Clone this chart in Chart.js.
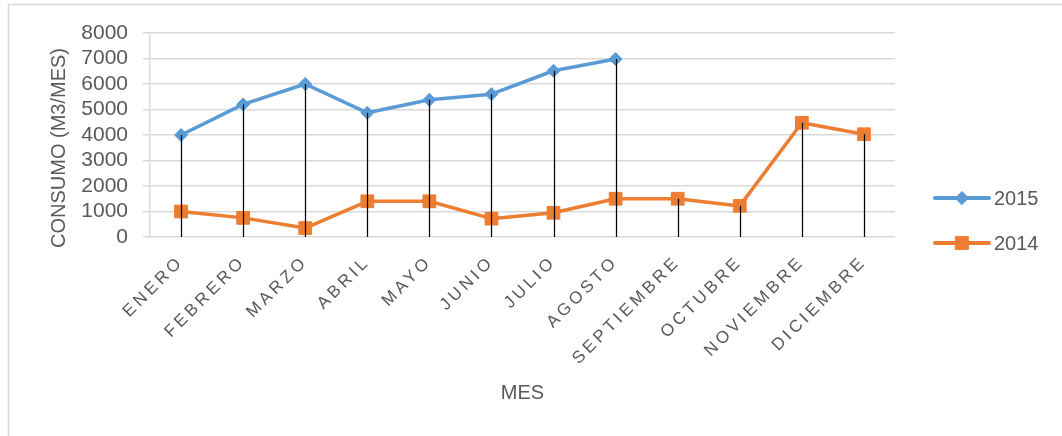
<!DOCTYPE html>
<html>
<head>
<meta charset="utf-8">
<script src="https://cdn.jsdelivr.net/npm/chart.js@4.4.0/dist/chart.umd.min.js"></script>
<style>
  html, body { margin:0; padding:0; background:#fff; }
  #wrap { width:1062px; height:436px; }
</style>
</head>
<body>
<div id="wrap"><canvas id="consumo" width="1062" height="436"></canvas></div>
<script>
const MESES = ['ENERO','FEBRERO','MARZO','ABRIL','MAYO','JUNIO','JULIO','AGOSTO','SEPTIEMBRE','OCTUBRE','NOVIEMBRE','DICIEMBRE'];
const CONSUMO_2015 = [4000, 5200, 6000, 4870, 5380, 5600, 6520, 6980, null, null, null, null];
const CONSUMO_2014 = [1000, 750, 350, 1400, 1400, 720, 950, 1500, 1500, 1220, 4480, 4030];
const SERIES = ['2015', '2014'];
const Y_MAX = 8000;
const Y_STEP = 1000;

const FONT = '"Liberation Sans", Arial, sans-serif';
const GREY_TEXT = '#595959';
const GRID = '#d9d9d9';

function el(id){ return document.getElementById(id); }

// white background + thin frame around the whole chart
const frame = {
  id: 'frame',
  beforeDraw(chart) {
    const c = chart.ctx;
    c.save();
    c.fillStyle = '#fff';
    c.fillRect(0, 0, chart.width, chart.height);
    c.strokeStyle = GRID;
    c.lineWidth = 1.5;
    c.strokeRect(8.5, 4.5, chart.width + 20, chart.height + 20);
    c.restore();
  }
};

// vertical drop lines from the highest point of each month to the axis
const dropLines = {
  id: 'dropLines',
  afterDatasetsDraw(chart) {
    const c = chart.ctx, xs = chart.scales.x, ys = chart.scales.y;
    c.save();
    c.strokeStyle = '#000';
    c.lineWidth = 1.25;
    MESES.forEach((m, i) => {
      const vals = chart.data.datasets.map(d => d.data[i]).filter(v => v != null);
      if (!vals.length) return;
      const px = Math.round(xs.getPixelForValue(i)) + 0.5;
      c.beginPath();
      c.moveTo(px, ys.getPixelForValue(Math.max(...vals)));
      c.lineTo(px, ys.getPixelForValue(0));
      c.stroke();
    });
    c.restore();
  }
};

// month labels are letter-spaced; the y title sits a little lower than centre
const axisTweaks = {
  id: 'axisTweaks',
  afterUpdate(chart) {
    const xs = chart.scales.x, ys = chart.scales.y;
    if (!xs._spaced) {
      const drawLabels = xs.drawLabels;
      xs.drawLabels = function(area) {
        const c = this.ctx;
        c.save();
        c.letterSpacing = '3.5px';
        drawLabels.call(this, area);
        c.restore();
      };
      xs._spaced = true;
    }
    if (!ys._shifted) {
      const drawTitle = ys.drawTitle;
      ys.drawTitle = function() {
        const c = this.ctx;
        c.save();
        c.translate(0, 13);
        drawTitle.call(this);
        c.restore();
      };
      ys._shifted = true;
    }
  }
};

// legend on the right: line sample with marker, then the year
const sideLegend = {
  id: 'sideLegend',
  afterDraw(chart) {
    const c = chart.ctx;
    const x0 = chart.chartArea.right + 40;
    c.save();
    chart.data.datasets.forEach((d, i) => {
      const y = 198 + i * 45;
      c.strokeStyle = d.borderColor;
      c.lineWidth = 4;
      c.lineCap = 'round';
      c.beginPath();
      c.moveTo(x0, y);
      c.lineTo(x0 + 54, y);
      c.stroke();
      c.fillStyle = d.backgroundColor;
      c.lineWidth = 1;
      Chart.helpers.drawPoint(c, { pointStyle: d.pointStyle, radius: d.pointRadius, borderWidth: 1, rotation: 0 }, x0 + 27, y);
      c.fillStyle = GREY_TEXT;
      c.font = '20px ' + FONT;
      c.textBaseline = 'middle';
      c.textAlign = 'left';
      c.fillText(d.label, x0 + 59, y + 1);
    });
    c.restore();
  }
};

const ctx = el('consumo').getContext('2d');
new Chart(ctx, {
  type: 'line',
  data: {
    labels: MESES,
    datasets: [
      {
        label: SERIES[0], data: CONSUMO_2015,
        borderColor: '#5B9BD5', backgroundColor: '#5B9BD5',
        borderWidth: 3.5, tension: 0, borderJoinStyle: 'round', borderCapStyle: 'round',
        pointStyle: 'rectRot', pointRadius: 6.5, pointBorderWidth: 1, pointHoverRadius: 6.5
      },
      {
        label: SERIES[1], data: CONSUMO_2014,
        borderColor: '#ED7D31', backgroundColor: '#ED7D31',
        borderWidth: 3.5, tension: 0, borderJoinStyle: 'round', borderCapStyle: 'round',
        pointStyle: 'rect', pointRadius: 9, pointBorderWidth: 1, pointHoverRadius: 9
      }
    ]
  },
  options: {
    responsive: false,
    animation: false,
    devicePixelRatio: 1,
    layout: { padding: { left: 0, right: 167, top: 33, bottom: 0 } },
    plugins: { legend: { display: false }, tooltip: { enabled: false } },
    scales: {
      x: {
        offset: true,
        grid: { display: false, drawTicks: false },
        border: { display: false },
        ticks: {
          minRotation: 45, maxRotation: 45, autoSkip: false, padding: 15,
          color: GREY_TEXT, font: { family: FONT, size: 17 }
        },
        title: {
          display: true, text: 'MES', color: GREY_TEXT,
          font: { family: FONT, size: 20 }, padding: { top: 0, bottom: 31 }
        },
        afterFit(s) { s.height = 199; }
      },
      y: {
        min: 0, max: Y_MAX,
        ticks: {
          stepSize: Y_STEP, autoSkip: false, padding: 15, color: GREY_TEXT,
          font: { family: FONT, size: 21 },
          callback: v => String(v)
        },
        grid: { color: GRID, lineWidth: 1.5, tickLength: 7, tickColor: GRID },
        border: { display: true, color: GRID, width: 1.5 },
        title: {
          display: true, text: 'CONSUMO (M3/MES)', color: GREY_TEXT,
          font: { family: FONT, size: 20 }, padding: { top: 47, bottom: 0 }
        },
        afterFit(s) { s.width = 150; }
      }
    }
  },
  plugins: [frame, dropLines, axisTweaks, sideLegend]
});
</script>
</body>
</html>
